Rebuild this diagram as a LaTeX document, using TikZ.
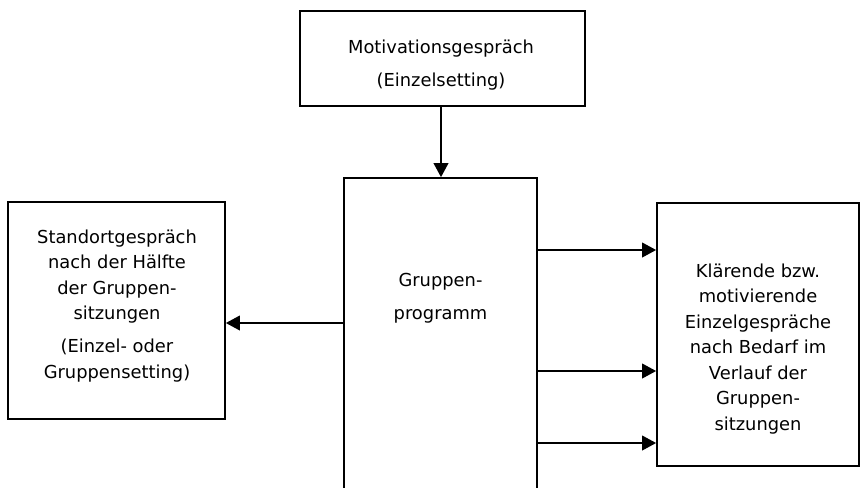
\documentclass[tikz,border=0pt]{standalone}
\usepackage{fontspec}
\setmainfont{DejaVu Sans}
\usetikzlibrary{arrows.meta}

\tikzset{
  box/.style={draw, line width=1.3pt, inner sep=0pt, fill=white},
  txt/.style={inner sep=0pt, align=center, anchor=north,
    font=\fontsize{13.4pt}{19.1pt}\selectfont},
  arr/.style={line width=1.3pt, -{Triangle[length=10.5pt, width=11pt]}}
}

\begin{document}
\begin{tikzpicture}[x=0.75pt, y=-0.75pt]
  \useasboundingbox (0,0) rectangle (861,487);
  \clip (0,0) rectangle (861,487);
  \fill[white] (0,0) rectangle (861,487);

  % boxes
  \node[box, minimum width=213.75pt, minimum height=71.25pt]  (top) at (442.5,58.5) {};
  \node[box, minimum width=144.75pt, minimum height=271.5pt]  (mid) at (440.5,359) {};
  \node[box, minimum width=162.75pt, minimum height=162.75pt] (lf)  at (116.5,310.5) {};
  \node[box, minimum width=151.5pt,  minimum height=197.25pt] (rt)  at (758,334.5) {};

  % box texts
  \node[txt] (toptxt) at (441,35) {\strut Motivationsgespräch\\[5.6pt](Einzelsetting)};
  \node[txt] (midtxt) at (440.5,268) {\strut Gruppen-\\[5.6pt]programm};
  \node[txt] (lftxt) at (117,225.2) {\strut Standortgespräch\\nach der Hälfte\\der Gruppen-\\sitzungen\\[5.6pt](Einzel- oder\\Gruppensetting)};
  \node[txt] (rttxt) at (758,259.2) {\strut Klärende bzw.\\motivierende\\Einzelgespräche\\nach Bedarf im\\Verlauf der\\Gruppen-\\sitzungen};

  % connector heights
  \coordinate (y0) at (441,0);
  \coordinate (yl) at (0,323);
  \coordinate (r1) at (0,250);
  \coordinate (r2) at (0,371);
  \coordinate (r3) at (0,443);

  % connectors
  \draw[arr] (top.south -| y0) -- (mid.north -| y0);
  \draw[arr] (mid.west |- yl) -- (lf.east |- yl);
  \draw[arr] (mid.east |- r1) -- (rt.west |- r1);
  \draw[arr] (mid.east |- r2) -- (rt.west |- r2);
  \draw[arr] (mid.east |- r3) -- (rt.west |- r3);
\end{tikzpicture}
\end{document}
